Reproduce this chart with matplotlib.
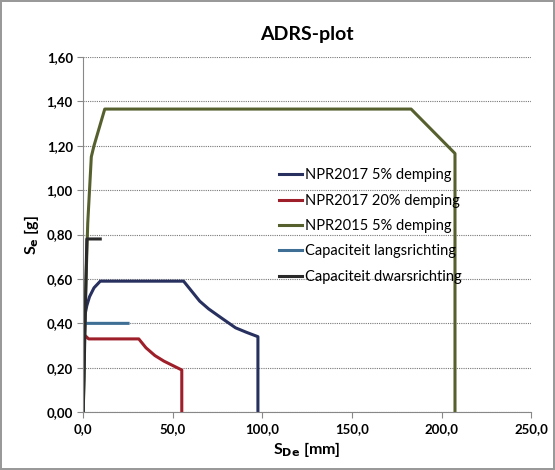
import numpy as np
import matplotlib
matplotlib.use("Agg")
import matplotlib.pyplot as plt
from matplotlib.ticker import FuncFormatter, MultipleLocator

plt.rcParams.update({
    "font.family": ["Lato", "DejaVu Sans"],
    "font.size": 10,
})

# NPR2017 5% demping
npr17_5_x = [0.0, 0.5, 1.0, 2.0, 3.5, 6.0, 9.5, 56.0, 60.0, 65.0, 70.0, 77.0, 85.0, 91.0, 97.5, 97.5]
npr17_5_y = [0.0, 0.30, 0.44, 0.48, 0.52, 0.56, 0.59, 0.59, 0.55, 0.50, 0.465, 0.425, 0.38, 0.36, 0.34, 0.0]
# NPR2017 20% demping
npr17_20_x = [0.0, 0.3, 1.0, 3.0, 31.0, 35.0, 40.0, 45.0, 50.0, 55.0, 55.0]
npr17_20_y = [0.0, 0.30, 0.345, 0.33, 0.33, 0.29, 0.255, 0.23, 0.21, 0.19, 0.0]
# NPR2015 5% demping
npr15_5_x = [0.0, 1.0, 2.5, 4.5, 6.0, 12.0, 183.0, 207.5, 207.5]
npr15_5_y = [0.0, 0.45, 0.85, 1.15, 1.20, 1.365, 1.365, 1.165, 0.0]
# Capaciteit langsrichting
langs_x = [0.0, 0.5, 25.0]
langs_y = [0.0, 0.40, 0.40]
# Capaciteit dwarsrichting
dwars_x = [0.0, 2.0, 9.5]
dwars_y = [0.0, 0.78, 0.78]

fig = plt.figure(figsize=(5.55, 4.70), dpi=100)
fig.patch.set_edgecolor("#999999")
fig.patch.set_linewidth(1.5)
ax = fig.add_axes([0.150, 0.123, 0.807, 0.756])

ax.plot(npr17_5_x, npr17_5_y, color="#27305e", lw=2.2, label="NPR2017 5% demping")
ax.plot(npr17_20_x, npr17_20_y, color="#9e1f2a", lw=2.2, label="NPR2017 20% demping")
ax.plot(npr15_5_x, npr15_5_y, color="#56602e", lw=2.2, label="NPR2015 5% demping")
ax.plot(langs_x, langs_y, color="#3f6f95", lw=2.2, label="Capaciteit langsrichting")
ax.plot(dwars_x, dwars_y, color="#2a2a2a", lw=2.2, label="Capaciteit dwarsrichting")

ax.set_xlim(0, 250)
ax.set_ylim(0, 1.6)
ax.xaxis.set_major_locator(MultipleLocator(50))
ax.yaxis.set_major_locator(MultipleLocator(0.2))
ax.xaxis.set_major_formatter(FuncFormatter(lambda v, _: f"{v:.1f}".replace(".", ",")))
ax.yaxis.set_major_formatter(FuncFormatter(lambda v, _: f"{v:.2f}".replace(".", ",")))
for lab in ax.get_xticklabels() + ax.get_yticklabels():
    lab.set_fontweight("bold")
ax.tick_params(axis="both", labelsize=9.5, color="#888888", length=4, direction="out")

ax.grid(axis="y", linestyle=(0, (1, 1)), color="#777777", lw=0.8)
ax.set_axisbelow(True)
ax.spines["top"].set_visible(False)
ax.spines["right"].set_visible(False)
ax.spines["left"].set_color("#888888")
ax.spines["bottom"].set_color("#888888")

ax.set_title("ADRS-plot", fontsize=14, fontweight="bold", pad=12)
ax.set_xlabel(r"S$_{\mathbf{De}}$ [mm]", fontsize=11.5, fontweight="bold")
ax.set_ylabel(r"S$_{\mathbf{e}}$ [g]", fontsize=11.5, fontweight="bold")

ax.legend(loc="upper left", bbox_to_anchor=(0.424, 0.703), frameon=False,
          fontsize=10.5, handlelength=1.6, handletextpad=0.2, labelspacing=0.78,
          borderaxespad=0)

fig.savefig("out.png", dpi=100)
